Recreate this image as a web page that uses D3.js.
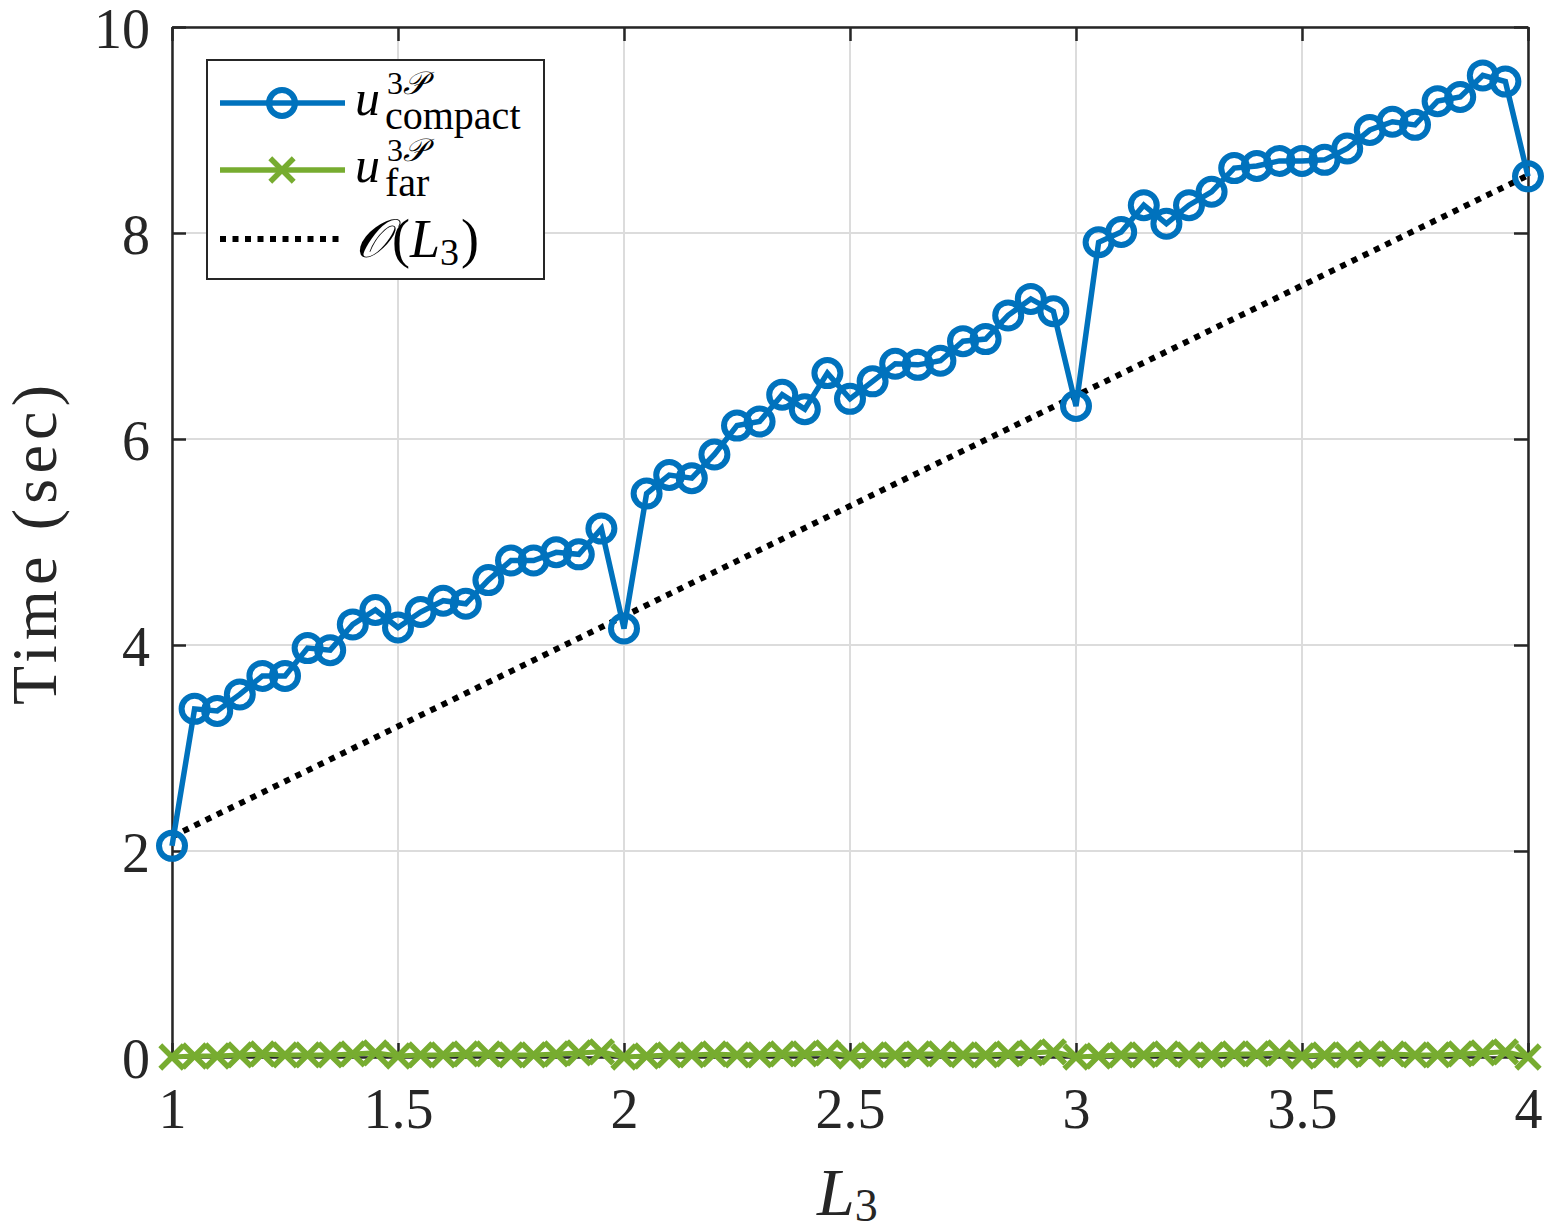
<!DOCTYPE html>
<html>
<head>
<meta charset="utf-8">
<script src="https://cdn.jsdelivr.net/npm/d3@7"></script>
<style>
  body { margin: 0; background: #fff; }
  svg { display: block; font-family: "Liberation Serif", "DejaVu Serif", serif; }
</style>
</head>
<body>
<svg width="1545" height="1230"></svg>
<script>
// L3 values (1 to 4 in steps of 0.05)
const L3 = [1.00,1.05,1.10,1.15,1.20,1.25,1.30,1.35,1.40,1.45,1.50,1.55,1.60,1.65,1.70,1.75,1.80,1.85,1.90,1.95,
            2.00,2.05,2.10,2.15,2.20,2.25,2.30,2.35,2.40,2.45,2.50,2.55,2.60,2.65,2.70,2.75,2.80,2.85,2.90,2.95,
            3.00,3.05,3.10,3.15,3.20,3.25,3.30,3.35,3.40,3.45,3.50,3.55,3.60,3.65,3.70,3.75,3.80,3.85,3.90,3.95,4.00];
const compactTime = [2.05,3.38,3.36,3.52,3.70,3.70,3.97,3.95,4.20,4.34,4.17,4.32,4.43,4.40,4.63,4.82,4.82,4.90,4.88,5.13,
                     4.16,5.47,5.65,5.62,5.85,6.13,6.17,6.43,6.29,6.64,6.39,6.56,6.73,6.72,6.76,6.95,6.97,7.20,7.36,7.24,
                     6.32,7.91,8.01,8.27,8.09,8.27,8.40,8.63,8.65,8.70,8.70,8.71,8.82,9.00,9.08,9.05,9.28,9.32,9.53,9.47,8.55];
const farTime = [0.00,0.01,0.01,0.02,0.03,0.02,0.02,0.02,0.03,0.04,0.01,0.02,0.02,0.03,0.03,0.02,0.02,0.03,0.04,0.05,
                 0.00,0.01,0.02,0.02,0.03,0.02,0.02,0.03,0.03,0.04,0.01,0.02,0.02,0.03,0.03,0.02,0.02,0.03,0.04,0.05,
                 0.00,0.01,0.02,0.02,0.03,0.02,0.02,0.03,0.03,0.04,0.01,0.02,0.02,0.03,0.03,0.02,0.02,0.03,0.04,0.05,0.00];
const refL3 = [1, 4];
const refTime = [2.14, 8.56];
const xTicks = [1, 1.5, 2, 2.5, 3, 3.5, 4];
const yTicks = [0, 2, 4, 6, 8, 10];

const svg = d3.select("svg"),
    mLeft = 172, mRight = 1528, mTop = 27, mBottom = 1057;

const x = d3.scaleLinear().domain([1, 4]).range([mLeft, mRight]),
    y = d3.scaleLinear().domain([0, 10]).range([mBottom, mTop]);

const blue = "#0072BD", green = "#77AC30", axisCol = "#262626";

// grid
svg.append("g").selectAll("line").data(xTicks).enter().append("line")
    .attr("x1", d => x(d)).attr("x2", d => x(d)).attr("y1", mTop).attr("y2", mBottom)
    .attr("stroke", "#dcdcdc").attr("stroke-width", 2);
svg.append("g").selectAll("line").data(yTicks).enter().append("line")
    .attr("y1", d => y(d)).attr("y2", d => y(d)).attr("x1", mLeft).attr("x2", mRight)
    .attr("stroke", "#dcdcdc").attr("stroke-width", 2);

// axes (ticks inside, mirrored)
const tickLen = 14;
const xAxis = d3.axisBottom(x).tickValues(xTicks).tickSizeInner(-tickLen).tickSizeOuter(0).tickPadding(31).tickFormat(d3.format("~g"));
const yAxis = d3.axisLeft(y).tickValues(yTicks).tickSizeInner(-tickLen).tickSizeOuter(0).tickPadding(22).tickFormat(d3.format("~g"));

const gx = svg.append("g").attr("transform", "translate(0," + mBottom + ")").call(xAxis);
const gy = svg.append("g").attr("transform", "translate(" + mLeft + ",0)").call(yAxis);
svg.append("g").attr("transform", "translate(0," + mTop + ")")
    .call(d3.axisTop(x).tickValues(xTicks).tickSizeInner(-tickLen).tickSizeOuter(0).tickFormat(""));
svg.append("g").attr("transform", "translate(" + mRight + ",0)")
    .call(d3.axisRight(y).tickValues(yTicks).tickSizeInner(-tickLen).tickSizeOuter(0).tickFormat(""));

svg.selectAll(".domain").attr("stroke", axisCol).attr("stroke-width", 2.5);
svg.selectAll(".tick line").attr("stroke", axisCol).attr("stroke-width", 2.5);
svg.selectAll(".tick text").attr("fill", axisCol).style("font-size", "56px")
    .style("font-family", "'Liberation Serif', serif");
gx.selectAll(".tick text").attr("dy", "0.71em");
gy.selectAll(".tick text").attr("dy", "0.36em");

// O(L3) reference line
const ref = refL3.map((d, i) => ({ x: d, y: refTime[i] }));
svg.append("path").datum(ref)
    .attr("d", d3.line().x(d => x(d.x)).y(d => y(d.y)))
    .attr("fill", "none").attr("stroke", "#000").attr("stroke-width", 6)
    .attr("stroke-dasharray", "6,6.5");

// far series
const far = L3.map((d, i) => ({ x: d, y: farTime[i] }));
svg.append("path").datum(far)
    .attr("d", d3.line().x(d => x(d.x)).y(d => y(d.y)))
    .attr("fill", "none").attr("stroke", green).attr("stroke-width", 5);
const cross = d3.symbol().type(d3.symbolX).size(360);
svg.append("g").selectAll("path").data(far).enter().append("path")
    .attr("transform", d => "translate(" + x(d.x) + "," + y(d.y) + ")")
    .attr("d", cross).attr("fill", "none").attr("stroke", green).attr("stroke-width", 5.5);

// compact series
const comp = L3.map((d, i) => ({ x: d, y: compactTime[i] }));
svg.append("path").datum(comp)
    .attr("d", d3.line().x(d => x(d.x)).y(d => y(d.y)))
    .attr("fill", "none").attr("stroke", blue).attr("stroke-width", 5.5);
svg.append("g").selectAll("circle").data(comp).enter().append("circle")
    .attr("cx", d => x(d.x)).attr("cy", d => y(d.y)).attr("r", 13)
    .attr("fill", "none").attr("stroke", blue).attr("stroke-width", 6);

// axis labels
svg.append("text").attr("x", 817).attr("y", 1215)
    .attr("fill", axisCol).style("font-size", "68px")
    .html('<tspan font-style="italic">L</tspan><tspan font-size="46px" dy="6">3</tspan>');
svg.append("text").attr("transform", "translate(56,545) rotate(-90)")
    .attr("text-anchor", "middle").attr("fill", axisCol).style("font-size", "64px")
    .attr("textLength", 320).attr("lengthAdjust", "spacing")
    .text("Time (sec)");

// legend
const lg = svg.append("g");
lg.append("rect").attr("x", 207).attr("y", 60).attr("width", 337).attr("height", 219)
    .attr("fill", "#fff").attr("stroke", axisCol).attr("stroke-width", 2);
const rows = [
  { y: 103, col: blue, type: "circle", sub: "compact" },
  { y: 170, col: green, type: "x", sub: "far" },
  { y: 239, col: "#000", type: "dot" }
];
rows.forEach(r => {
  if (r.type === "dot") {
    lg.append("line").attr("x1", 220).attr("x2", 345).attr("y1", r.y).attr("y2", r.y)
      .attr("stroke", "#000").attr("stroke-width", 6).attr("stroke-dasharray", "6,6.5");
    lg.append("text").attr("x", 355).attr("y", r.y + 18).style("font-size", "54px")
      .html('<tspan font-style="italic">𝒪</tspan><tspan dx="3">(</tspan><tspan font-style="italic">L</tspan><tspan font-size="38px" dy="8">3</tspan><tspan dy="-8" dx="2">)</tspan>');
    return;
  }
  lg.append("line").attr("x1", 220).attr("x2", 345).attr("y1", r.y).attr("y2", r.y)
    .attr("stroke", r.col).attr("stroke-width", 5.5);
  if (r.type === "circle") {
    lg.append("circle").attr("cx", 282).attr("cy", r.y).attr("r", 13)
      .attr("fill", "none").attr("stroke", r.col).attr("stroke-width", 6);
  } else {
    lg.append("path").attr("transform", "translate(282," + r.y + ")").attr("d", cross)
      .attr("fill", "none").attr("stroke", r.col).attr("stroke-width", 5.5);
  }
  const base = r.y + 12;
  const t = lg.append("text").style("font-size", "50px");
  t.append("tspan").attr("x", 355).attr("y", base).attr("font-style", "italic").text("u");
  t.append("tspan").attr("x", 387).attr("y", base - 21).attr("font-size", "32px").text("3");
  t.append("tspan").attr("font-size", "32px").attr("font-style", "italic").text("𝒫");
  t.append("tspan").attr("x", 385).attr("y", base + 14).attr("font-size", "40px").text(r.sub);
});
</script>
</body>
</html>
